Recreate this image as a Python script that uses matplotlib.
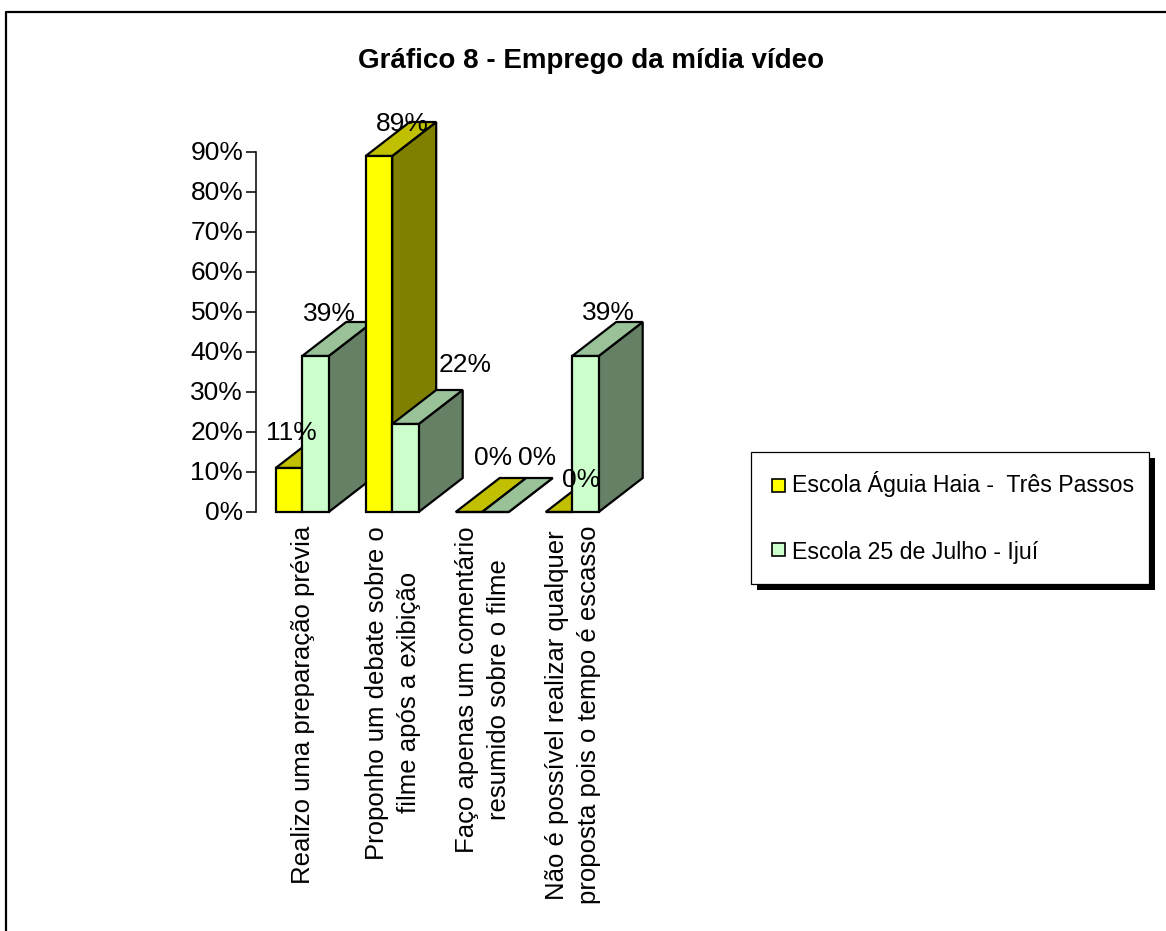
import matplotlib
matplotlib.use('Agg')
import matplotlib.pyplot as plt
from matplotlib.patches import Polygon, Rectangle
from matplotlib.lines import Line2D
from matplotlib.transforms import ScaledTranslation

plt.rcParams['font.family'] = ['Liberation Sans', 'DejaVu Sans']

W, H = 1166, 931

title = 'Gráfico 8 - Emprego da mídia vídeo'
categories = [
    'Realizo uma preparação prévia',
    'Proponho um debate sobre o\nfilme após a exibição',
    'Faço apenas um comentário\nresumido sobre o filme',
    'Não é possível realizar qualquer\nproposta pois o tempo é escasso',
]
series_names = ['Escola Águia Haia -  Três Passos', 'Escola 25 de Julho - Ijuí']
aguia = [11, 89, 0, 0]
julho = [39, 22, 0, 39]
y_ticks = list(range(0, 100, 10))

# front, top and side shades of each series
colors_a = ('#ffff00', '#c0c000', '#808000')
colors_j = ('#ccffcc', '#99c299', '#668066')

# label offsets in pixels from the front-left corner of the bar top
label_off_a = [(16, 35), (37, 32), (37, 54), (35, 32)]
label_off_j = [(27, 42), (73, 59), (55, 54), (36, 43)]


def px_rect(x0, y0, x1, y1):
    return [x0 / W, 1 - y1 / H, (x1 - x0) / W, (y1 - y0) / H]


def draw_bar(ax, left, width, value, colors):
    dx, dy = 44 / 90, 34 / 4
    right = left + width
    kw = dict(edgecolor='black', linewidth=1.6, joinstyle='miter', clip_on=False)
    ax.add_patch(Polygon([(right, 0), (right + dx, dy), (right + dx, value + dy), (right, value)],
                         facecolor=colors[2], **kw))
    ax.add_patch(Polygon([(left, value), (left + dx, value + dy), (right + dx, value + dy), (right, value)],
                         facecolor=colors[1], **kw))
    ax.add_patch(Rectangle((left, 0), width, value, facecolor=colors[0], **kw))


def main():
    fig = plt.figure(figsize=(W / 100, H / 100), dpi=100)

    # chart area border, open towards the right and bottom of the canvas
    fig.add_artist(Line2D([6 / W, 6 / W, 1], [0, 1 - 12 / H, 1 - 12 / H], color='black', linewidth=1.6))

    fig.text(591.5 / W, 1 - 61 / H, title, fontsize=20, fontweight='bold', ha='center', va='center')

    # one x unit is one category, 90 pixels wide
    ax = fig.add_axes(px_rect(256, 152, 616, 512))
    ax.set_xlim(0, 4)
    ax.set_ylim(0, 90)
    ax.patch.set_visible(False)
    for side in ['top', 'right', 'bottom']:
        ax.spines[side].set_visible(False)
    ax.spines['left'].set_linewidth(1.1)

    ax.set_yticks(y_ticks)
    ax.set_yticklabels([f'{v}%' for v in y_ticks], fontsize=19)
    ax.tick_params(axis='y', length=7.2, width=1.1, pad=2)
    ax.set_xticks([])
    # nudge the tick labels up a pixel so they sit level with the ticks
    nudge = ScaledTranslation(0, 1 / 100, fig.dpi_scale_trans)
    for lab in ax.get_yticklabels():
        lab.set_transform(lab.get_transform() + nudge)

    bar_w = 26.5 / 90
    start = 19.7 / 90
    for i in range(len(categories)):
        draw_bar(ax, i + start, bar_w, aguia[i], colors_a)
        draw_bar(ax, i + start + bar_w, bar_w, julho[i], colors_j)

    # value labels go on top of every bar
    for i in range(len(categories)):
        for vals, offs, shift in [(aguia, label_off_a, 0), (julho, label_off_j, bar_w)]:
            ax.annotate(f'{vals[i]}%', (i + start + shift, vals[i]), xytext=(offs[i][0] * 0.72, offs[i][1] * 0.72),
                        textcoords='offset points', ha='center', va='center', fontsize=19,
                        annotation_clip=False, zorder=10)

    for i, cat in enumerate(categories):
        ax.annotate(cat, (i + 0.5, 0), xytext=(0.72 * 2, -10), textcoords='offset points',
                    rotation=90, rotation_mode='anchor', ha='right', va='center', ma='center',
                    fontsize=18.5, linespacing=1.42, annotation_clip=False)

    # legend box with a hard drop shadow
    fig.add_artist(Rectangle((757 / W, 1 - 590 / H), 398 / W, 132 / H, facecolor='black', edgecolor='none',
                             transform=fig.transFigure))
    fig.add_artist(Rectangle((751 / W, 1 - 584 / H), 398 / W, 132 / H, facecolor='white', edgecolor='black',
                             linewidth=0.9, transform=fig.transFigure))
    legend_rows = [(479, 492, 484), (543, 556, 552)]
    for (y0, y1, yt), name, cols in zip(legend_rows, series_names, [colors_a, colors_j]):
        fig.add_artist(Rectangle((772 / W, 1 - y1 / H), 13 / W, (y1 - y0) / H, facecolor=cols[0], edgecolor='black',
                                 linewidth=1.2, transform=fig.transFigure))
        fig.text(792 / W, 1 - yt / H, name, fontsize=16.7, ha='left', va='center')

    fig.savefig('out.png', dpi=100)


if __name__ == '__main__':
    main()
